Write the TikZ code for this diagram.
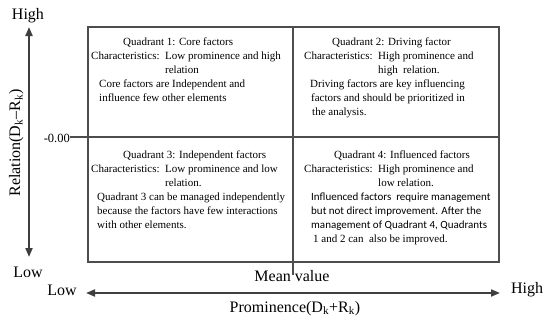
\documentclass[tikz,border=0pt]{standalone}
\usepackage{fontspec}
\setmainfont{Liberation Serif}
\newfontfamily\calibfont{Carlito}
\usetikzlibrary{arrows.meta}
\definecolor{linegray}{HTML}{4D4D4D}
\definecolor{arrowgray}{HTML}{3F3F3F}
\newcommand{\chars}[2]{\begin{tabular}[t]{@{}l@{}l@{}}\makebox[74pt][l]{Characteristics:} & #1\\ & #2\end{tabular}}
\newcommand{\desc}[1]{\begin{tabular}[t]{@{}l@{}}#1\end{tabular}}
\tikzset{
  qtext/.style={font=\fontsize{11}{14}\selectfont,anchor=base west,inner sep=0pt},
  axislabel/.style={font=\fontsize{16}{19}\selectfont,anchor=base,inner sep=0pt},
  frame/.style={draw=linegray,line width=1.4pt},
  axisarrow/.style={draw=arrowgray,line width=2pt,{Triangle[length=9pt,width=7pt]}-{Triangle[length=9pt,width=7pt]}}
}
\begin{document}
\begin{tikzpicture}[x=1pt,y=-1pt]
\useasboundingbox (0,0) rectangle (550,322);
% quadrant frame and mean lines
\draw[frame] (88,27) rectangle (499,262);
\coordinate (meantop) at (293,27);
\coordinate (meanbot) at (293,275);
\coordinate (zeroleft) at (70,137);
\coordinate (zeroright) at (499,137);
\draw[frame] (meantop)--(meanbot);
\draw[frame] (zeroleft)--(zeroright);
\node[font=\fontsize{12.5}{15}\selectfont,anchor=base east,inner sep=0pt] (zero) at (zeroleft|-0,142) {-0.00};
% axes
\coordinate (ytop) at (29,27);
\coordinate (ybot) at (29,257);
\coordinate (xleft) at (86,293);
\coordinate (xright) at (500,293);
\draw[axisarrow] (ytop)--(ybot);
\draw[axisarrow] (xleft)--(xright);
\node[axislabel] (yhigh) at (28,19) {High};
\node[axislabel] (ylow) at (28,277) {Low};
\node[axislabel] (xlow) at (62,295) {Low};
\node[axislabel] (xhigh) at (527,293) {High};
\node[axislabel] (mean) at (292,281) {Mean value};
\node[axislabel] (xname) at (295,312) {Prominence(D\textsubscript{k}+R\textsubscript{k})};
\node[axislabel,rotate=90] (yname) at (20,143) {Relation(D\textsubscript{k}–R\textsubscript{k})};
% quadrant 1
\node[qtext] (q1title) at (123,45) {Quadrant 1: Core factors};
\node[qtext] (q1chars) at (91,59) {\chars{Low prominence and high}{relation}};
\node[qtext] (q1desc) at (99,87) {\desc{Core factors are Independent and\\influence few other elements}};
% quadrant 2
\node[qtext] (q2title) at (332,45) {Quadrant 2: Driving factor};
\node[qtext] (q2chars) at (304,59) {\chars{High prominence and}{high\ \ relation.}};
\node[qtext] (q2desc) at (310,87) {\desc{Driving factors are key influencing\\\hspace{1pt}factors and should be prioritized in\\\hspace{2pt}the analysis.}};
% quadrant 3
\node[qtext] (q3title) at (123,158) {Quadrant 3: Independent factors};
\node[qtext] (q3chars) at (91,172) {\chars{Low prominence and low}{relation.}};
\node[qtext] (q3desc) at (97,200) {\desc{Quadrant 3 can be managed independently\\because the factors have few interactions\\with other elements.}};
% quadrant 4
\node[qtext] (q4title) at (334,158) {Quadrant 4: Influenced factors};
\node[qtext] (q4chars) at (304,172) {\chars{High prominence and}{low relation.}};
\node[qtext] (q4desc) at (311,200) {\desc{\calibfont Influenced factors\ \ require management\\\calibfont but not direct improvement. After the\\\calibfont management of Quadrant 4, Quadrants\\\hspace{2pt}1 and 2 can\ \ also be improved.}};
\end{tikzpicture}
\end{document}
